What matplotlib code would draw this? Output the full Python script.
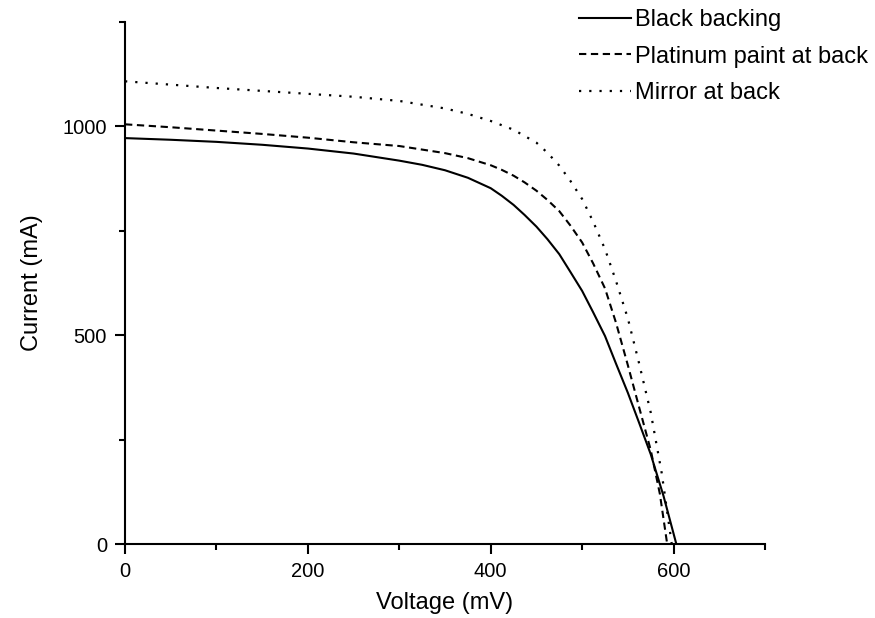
import matplotlib
matplotlib.use("Agg")
import matplotlib.pyplot as plt
from matplotlib.ticker import MultipleLocator

plt.rcParams["font.family"] = ["Liberation Sans", "DejaVu Sans"]

# Voltage (mV) / current (mA)
v_black = [0, 50, 100, 150, 200, 250, 300, 325, 350, 375, 400, 412, 425, 437,
           450, 462, 475, 487, 500, 512, 525, 537, 550, 562, 575, 589, 603]
i_black = [972, 968, 963, 956, 947, 935, 918, 908, 895, 877, 852, 834, 812, 788,
           760, 730, 694, 652, 606, 555, 498, 432, 362, 292, 215, 115, 0]

v_plat = [0, 50, 100, 150, 200, 250, 300, 350, 375, 400, 412, 425, 437, 450,
          462, 475, 487, 500, 512, 525, 537, 550, 562, 575, 585, 593]
i_plat = [1005, 998, 990, 982, 973, 962, 953, 936, 924, 907, 896, 882, 866, 846,
          824, 797, 763, 722, 672, 612, 530, 428, 330, 225, 120, 0]

v_mirror = [0, 50, 100, 150, 200, 250, 300, 350, 375, 400, 425, 450, 462, 475,
            487, 500, 512, 525, 537, 550, 562, 575, 587, 598]
i_mirror = [1108, 1100, 1092, 1085, 1078, 1071, 1061, 1043, 1030, 1013, 992, 961,
            937, 906, 870, 826, 772, 706, 630, 540, 435, 315, 170, 0]

labels = ["Black backing", "Platinum paint at back", "Mirror at back"]

fig = plt.figure(figsize=(8.75, 6.18), dpi=100)
ax = fig.add_axes([0.1429, 0.1197, 0.7314, 0.8447])

ax.plot(v_black, i_black, color="black", lw=1.5, ls="-", label=labels[0])
ax.plot(v_plat, i_plat, color="black", lw=1.5, ls=(0, (3.5, 2.2)), label=labels[1])
ax.plot(v_mirror, i_mirror, color="black", lw=1.6, ls=(0, (1, 3.6)), label=labels[2])

ax.set_xlim(0, 700)
ax.set_ylim(0, 1250)
ax.xaxis.set_major_locator(MultipleLocator(200))
ax.xaxis.set_minor_locator(MultipleLocator(100))
ax.yaxis.set_major_locator(MultipleLocator(500))
ax.yaxis.set_minor_locator(MultipleLocator(250))

for s in ["top", "right"]:
    ax.spines[s].set_visible(False)
for s in ["left", "bottom"]:
    ax.spines[s].set_linewidth(1.5)

ax.tick_params(which="major", direction="out", length=7, width=1.5,
               labelsize=14.5, pad=6)
ax.tick_params(which="minor", direction="out", length=4, width=1.5)

ax.set_xlabel("Voltage (mV)", fontsize=17, labelpad=8)
ax.set_ylabel("Current (mA)", fontsize=17, labelpad=14)

ax.legend(loc="upper right", bbox_to_anchor=(0.997, 0.993),
          bbox_transform=fig.transFigure, frameon=False, fontsize=17,
          handlelength=2.2, handletextpad=0.15, labelspacing=0.62,
          borderaxespad=0.0, borderpad=0.2)

plt.savefig("out.png", dpi=100)
